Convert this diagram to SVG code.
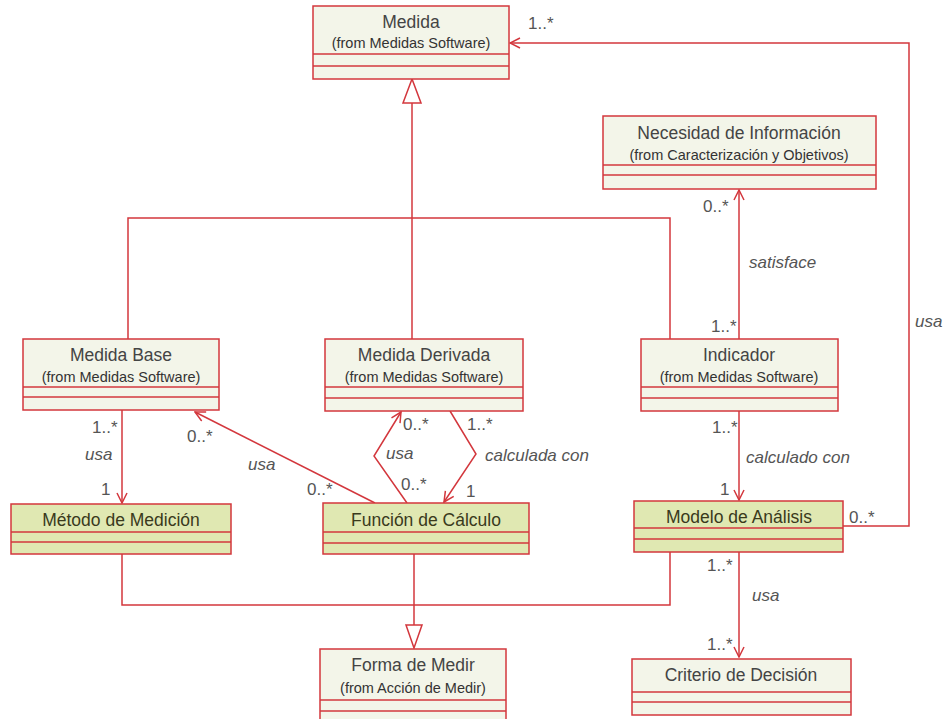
<svg xmlns="http://www.w3.org/2000/svg" width="950" height="719" viewBox="0 0 950 719">
  <defs>
    <style>
      .box { fill: #f3f5e9; stroke: #d3373d; stroke-width: 1.5; }
      .act { fill: #e0e8b2; stroke: #d3373d; stroke-width: 1.5; }
      .sep { stroke: #d3373d; stroke-width: 1.5; fill: none; }
      .ln { stroke: #d3373d; stroke-width: 1.5; fill: none; }
      .tri { fill: #ffffff; stroke: #d3373d; stroke-width: 1.5; }
      .title { font-family: "Liberation Sans", Arial, sans-serif; font-size: 17.5px; fill: #444444; text-anchor: middle; }
      .title2 { font-family: "Liberation Sans", Arial, sans-serif; font-size: 17.5px; fill: #3a3a1c; text-anchor: middle; }
      .sub { font-family: "Liberation Sans", Arial, sans-serif; font-size: 14.5px; fill: #333333; text-anchor: middle; }
      .lbl { font-family: "Liberation Sans", Arial, sans-serif; font-size: 17px; fill: #555555; }
      .role { font-family: "Liberation Sans", Arial, sans-serif; font-size: 17px; fill: #555555; font-style: italic; }
    </style>
    <marker id="open" viewBox="0 0 12 12" refX="11" refY="6" markerWidth="12" markerHeight="12" markerUnits="userSpaceOnUse" orient="auto">
      <path d="M1,1 L11,6 L1,11" fill="none" stroke="#d3373d" stroke-width="1.5"/>
    </marker>
  </defs>

  <!-- associations and generalizations -->
  <g id="connectors">
    <!-- generalization to Medida -->
    <polyline class="ln" points="412,103 412,339"/>
    <polyline class="ln" points="128,339 128,218 670,218 670,339"/>
    <polygon class="tri" points="412,79 403,103 421,103"/>

    <!-- generalization to Forma de Medir -->
    <polyline class="ln" points="122,554 122,605 670,605 670,552"/>
    <polyline class="ln" points="414,554 414,625"/>
    <polygon class="tri" points="414,648 406,625 422,625"/>

    <!-- Medida Base usa Metodo de Medicion -->
    <line class="ln" x1="122" y1="410" x2="122" y2="503" marker-end="url(#open)"/>
    <!-- Funcion de Calculo usa Medida Base -->
    <line class="ln" x1="375" y1="503" x2="195" y2="412" marker-end="url(#open)"/>
    <!-- Funcion de Calculo usa Medida Derivada -->
    <polyline class="ln" points="407,503 374,456 401,412" marker-end="url(#open)"/>
    <!-- Medida Derivada calculada con Funcion de Calculo -->
    <polyline class="ln" points="450,411 476,454 444,502" marker-end="url(#open)"/>
    <!-- Indicador satisface Necesidad -->
    <line class="ln" x1="739" y1="339" x2="739" y2="190" marker-end="url(#open)"/>
    <!-- Indicador calculado con Modelo -->
    <line class="ln" x1="739" y1="411" x2="739" y2="500" marker-end="url(#open)"/>
    <!-- Modelo usa Criterio -->
    <line class="ln" x1="739" y1="552" x2="739" y2="657" marker-end="url(#open)"/>
    <!-- Modelo usa Medida -->
    <polyline class="ln" points="843,526 909,526 909,43 510,43" marker-end="url(#open)"/>

    <!-- multiplicities and roles -->
    <text class="lbl" x="528" y="29">1..*</text>
    <text class="role" x="915" y="327">usa</text>
    <text class="lbl" x="849" y="523">0..*</text>

    <text class="lbl" x="703" y="212">0..*</text>
    <text class="role" x="749" y="268">satisface</text>
    <text class="lbl" x="711" y="332">1..*</text>

    <text class="lbl" x="712" y="433">1..*</text>
    <text class="role" x="746" y="463">calculado con</text>
    <text class="lbl" x="720" y="495">1</text>

    <text class="lbl" x="707" y="571">1..*</text>
    <text class="role" x="752" y="601">usa</text>
    <text class="lbl" x="707" y="650">1..*</text>

    <text class="lbl" x="92" y="433">1..*</text>
    <text class="role" x="85" y="460">usa</text>
    <text class="lbl" x="101" y="495">1</text>

    <text class="lbl" x="187" y="442">0..*</text>
    <text class="role" x="248" y="470">usa</text>
    <text class="lbl" x="307" y="495">0..*</text>

    <text class="lbl" x="403" y="430">0..*</text>
    <text class="role" x="386" y="459">usa</text>
    <text class="lbl" x="401" y="490">0..*</text>

    <text class="lbl" x="467" y="430">1..*</text>
    <text class="role" x="485" y="461">calculada con</text>
    <text class="lbl" x="466" y="497">1</text>
  </g>

  <g id="medida">
    <rect class="box" x="313" y="6" width="196" height="73"/>
    <line class="sep" x1="313" y1="54" x2="509" y2="54"/>
    <line class="sep" x1="313" y1="66" x2="509" y2="66"/>
    <text class="title" x="411" y="28">Medida</text>
    <text class="sub" x="411" y="48">(from Medidas Software)</text>
  </g>

  <g id="necesidad">
    <rect class="box" x="603" y="116" width="273" height="73"/>
    <line class="sep" x1="603" y1="165" x2="876" y2="165"/>
    <line class="sep" x1="603" y1="175" x2="876" y2="175"/>
    <text class="title" x="739" y="139">Necesidad de Información</text>
    <text class="sub" x="739" y="160">(from Caracterización y Objetivos)</text>
  </g>

  <g id="medida-base">
    <rect class="box" x="23" y="339" width="196" height="71"/>
    <line class="sep" x1="23" y1="387" x2="219" y2="387"/>
    <line class="sep" x1="23" y1="397" x2="219" y2="397"/>
    <text class="title" x="121" y="361">Medida Base</text>
    <text class="sub" x="121" y="382">(from Medidas Software)</text>
  </g>

  <g id="medida-derivada">
    <rect class="box" x="325" y="339" width="198" height="72"/>
    <line class="sep" x1="325" y1="387" x2="523" y2="387"/>
    <line class="sep" x1="325" y1="398" x2="523" y2="398"/>
    <text class="title" x="424" y="361">Medida Derivada</text>
    <text class="sub" x="424" y="382">(from Medidas Software)</text>
  </g>

  <g id="indicador">
    <rect class="box" x="641" y="339" width="197" height="72"/>
    <line class="sep" x1="641" y1="387" x2="838" y2="387"/>
    <line class="sep" x1="641" y1="398" x2="838" y2="398"/>
    <text class="title" x="739" y="361">Indicador</text>
    <text class="sub" x="739" y="382">(from Medidas Software)</text>
  </g>

  <g id="metodo-medicion">
    <rect class="act" x="11" y="504" width="220" height="50"/>
    <line class="sep" x1="11" y1="532" x2="231" y2="532"/>
    <line class="sep" x1="11" y1="542" x2="231" y2="542"/>
    <text class="title2" x="121" y="526">Método de Medición</text>
  </g>

  <g id="funcion-calculo">
    <rect class="act" x="323" y="503" width="206" height="51"/>
    <line class="sep" x1="323" y1="532" x2="529" y2="532"/>
    <line class="sep" x1="323" y1="543" x2="529" y2="543"/>
    <text class="title2" x="426" y="526">Función de Cálculo</text>
  </g>

  <g id="modelo-analisis">
    <rect class="act" x="634" y="501" width="209" height="51"/>
    <line class="sep" x1="634" y1="528" x2="843" y2="528"/>
    <line class="sep" x1="634" y1="539" x2="843" y2="539"/>
    <text class="title2" x="739" y="523">Modelo de Análisis</text>
  </g>

  <g id="forma-medir">
    <rect class="box" x="320" y="649" width="186" height="75"/>
    <line class="sep" x1="320" y1="700" x2="506" y2="700"/>
    <line class="sep" x1="320" y1="711" x2="506" y2="711"/>
    <text class="title" x="413" y="671">Forma de Medir</text>
    <text class="sub" x="413" y="693">(from Acción de Medir)</text>
  </g>

  <g id="criterio-decision">
    <rect class="box" x="632" y="659" width="219" height="56"/>
    <line class="sep" x1="632" y1="692" x2="851" y2="692"/>
    <line class="sep" x1="632" y1="702" x2="851" y2="702"/>
    <text class="title" x="741" y="681">Criterio de Decisión</text>
  </g>
</svg>
